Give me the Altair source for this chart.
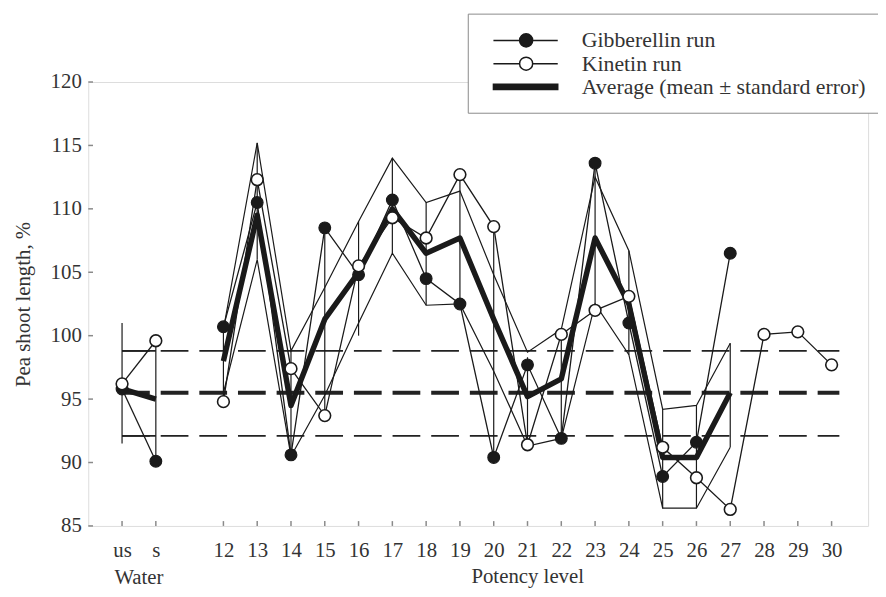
import altair as alt
import pandas as pd

# ---------------- data ----------------
x_labels = ["us", "s", "12", "13", "14", "15", "16", "17", "18", "19", "20",
            "21", "22", "23", "24", "25", "26", "27", "28", "29", "30"]
x_pos = [0, 1, 3, 4, 5, 6, 7, 8, 9, 10, 11, 12, 13, 14, 15, 16, 17, 18, 19, 20, 21]

gib_labels = x_labels[:18]
gib_vals = [95.8, 90.1, 100.7, 110.5, 90.6, 108.5, 104.8, 110.7, 104.5, 102.5,
            90.4, 97.7, 91.9, 113.6, 101.0, 88.9, 91.6, 106.5]

kin_labels = x_labels
kin_vals = [96.2, 99.6, 94.8, 112.3, 97.4, 93.7, 105.5, 109.3, 107.7, 112.7,
            108.6, 91.4, 100.1, 102.0, 103.1, 91.2, 88.8, 86.3, 100.1, 100.3, 97.7]

avg_labels = x_labels[:18]
avg_vals = [95.8, 95.0, 98.0, 109.5, 94.5, 101.3, 105.0, 110.0, 106.5, 107.7,
            101.3, 95.2, 96.6, 107.7, 102.5, 90.4, 90.4, 95.5]

env_labels = x_labels[2:18]
env_upper = [100.5, 115.2, 98.8, 103.8, 109.0, 114.0, 110.5, 111.4, 104.8, 98.7,
             100.5, 112.5, 106.7, 94.2, 94.5, 99.4]
env_lower = [95.5, 106.0, 90.5, 95.3, 101.0, 106.5, 102.4, 102.5, 97.2, 91.3,
             91.9, 102.5, 98.5, 86.4, 86.4, 91.2]

bar_labels = x_labels[:18]
bar_lo = [91.5, 90.1, 94.8, 106.0, 90.6, 93.7, 100.0, 106.5, 102.4, 102.5,
          90.4, 91.5, 91.9, 102.0, 98.5, 86.4, 86.4, 91.2]
bar_hi = [101.0, 99.6, 100.7, 115.2, 98.8, 108.5, 109.0, 114.0, 110.5, 112.7,
          108.6, 98.3, 100.1, 113.6, 106.7, 94.2, 94.5, 99.4]

water_levels = [98.8, 95.5, 92.1]
water_widths = [1.8, 4.0, 1.8]
water_cap_levels = [98.8, 92.1]
dash_start, dash_end = 0, 21.23

y_ticks = [85, 90, 95, 100, 105, 110, 115, 120]
legend_labels = ["Gibberellin run", "Kinetin run", "Average (mean \u00b1 standard error)"]

# ---------------- helpers ----------------
pos_of = dict(zip(x_labels, x_pos))


def seg(lbl):
    return "water" if lbl in ("us", "s") else "potency"


FONT = "Liberation Serif"
INK = "#1a1a1a"
GREY = "#8a8a8a"
TXT = "#333"

label_array = ["" for _ in range(max(x_pos) + 1)]
for lbl, p in zip(x_labels, x_pos):
    label_array[p] = lbl
label_expr = "[" + ",".join("'" + s + "'" for s in label_array) + "][datum.value]"

xscale = alt.Scale(domain=[-1, 22.08], nice=False, zero=False)
yscale = alt.Scale(domain=[85, 120], nice=False, zero=False)

xaxis = alt.Axis(values=x_pos, labelExpr=label_expr, tickSize=0, domain=False, grid=False,
                 labelFont=FONT, labelFontSize=21, labelColor=TXT, labelPadding=14,
                 title="Potency level", titleFont=FONT, titleFontSize=21,
                 titleFontWeight="normal", titleColor=TXT, titleX=443, titlePadding=5)
yaxis = alt.Axis(values=y_ticks, tickSize=0, domain=False, grid=False,
                 labelFont=FONT, labelFontSize=21, labelColor=TXT, labelPadding=7,
                 title="Pea shoot length, %", titleFont=FONT, titleFontSize=21,
                 titleFontWeight="normal", titleColor=TXT, titlePadding=17)

X = alt.X("x:Q", scale=xscale, axis=xaxis)
Y = alt.Y("y:Q", scale=yscale, axis=yaxis)

# ---------------- frames ----------------
dash_df = pd.DataFrame({"y": water_levels, "w": water_widths,
                        "x": dash_start, "x2": dash_end})
cap_df = pd.DataFrame({"y": water_cap_levels, "x": x_pos[0], "x2": x_pos[1]})

env_df = pd.DataFrame(
    [{"x": pos_of[l], "y": v, "b": "upper"} for l, v in zip(env_labels, env_upper)] +
    [{"x": pos_of[l], "y": v, "b": "lower"} for l, v in zip(env_labels, env_lower)])

bar_df = pd.DataFrame({"x": [pos_of[l] for l in bar_labels], "y": bar_lo, "y2": bar_hi})

gib_df = pd.DataFrame({"x": [pos_of[l] for l in gib_labels], "y": gib_vals,
                       "seg": [seg(l) for l in gib_labels]})
kin_df = pd.DataFrame({"x": [pos_of[l] for l in kin_labels], "y": kin_vals,
                       "seg": [seg(l) for l in kin_labels]})
avg_df = pd.DataFrame({"x": [pos_of[l] for l in avg_labels], "y": avg_vals,
                       "seg": [seg(l) for l in avg_labels]})

xt_df = pd.DataFrame({"x": x_pos, "y": 85.0, "y2": 85.38})
yt_df = pd.DataFrame({"y": y_ticks, "x": -1.0, "x2": -0.86})

water_df = pd.DataFrame({"x": [(x_pos[0] + x_pos[1]) / 2], "t": ["Water"]})

leg_df = pd.DataFrame({"series": legend_labels, "x": 0.0, "y": 150.0})

# ---------------- layers ----------------
dashes = alt.Chart(dash_df).mark_rule(strokeDash=[28, 11], color="#222").encode(
    x=X, x2="x2:Q", y=Y, strokeWidth=alt.StrokeWidth("w:Q", scale=None))

caps = alt.Chart(cap_df).mark_rule(color="#222", strokeWidth=1.8).encode(
    x=X, x2="x2:Q", y=Y)

env = alt.Chart(env_df).mark_line(color=INK, strokeWidth=1.2).encode(
    x=X, y=Y, detail="b:N")

bars = alt.Chart(bar_df).mark_rule(color=INK, strokeWidth=1.2).encode(
    x=X, y=Y, y2="y2:Q")

gib_line = alt.Chart(gib_df).mark_line(color=INK, strokeWidth=1.3).encode(
    x=X, y=Y, detail="seg:N")
kin_line = alt.Chart(kin_df).mark_line(color=INK, strokeWidth=1.3).encode(
    x=X, y=Y, detail="seg:N")
avg_line = alt.Chart(avg_df).mark_line(color=INK, strokeWidth=5.5, strokeJoin="round").encode(
    x=X, y=Y, detail="seg:N")

gib_pts = alt.Chart(gib_df).mark_point(filled=True, shape="circle", size=140, opacity=1,
                                       fill=INK, stroke=INK, strokeWidth=1.2).encode(x=X, y=Y)
kin_pts = alt.Chart(kin_df).mark_point(filled=True, shape="circle", size=140, opacity=1,
                                       fill="white", stroke=INK, strokeWidth=1.6).encode(x=X, y=Y)

xticks = alt.Chart(xt_df).mark_rule(color=GREY, strokeWidth=1.5).encode(x=X, y=Y, y2="y2:Q")
yticks = alt.Chart(yt_df).mark_rule(color=GREY, strokeWidth=1.5).encode(x=X, x2="x2:Q", y=Y)

water = alt.Chart(water_df).mark_text(font=FONT, fontSize=21, color=TXT,
                                      baseline="middle", align="center").encode(
    x=X, y=alt.value(501), text="t:N")

# legend symbols: line + circle / thick bar (unit = sqrt(size)/2)
p_circ = ("M-0.1,0L2.3,0M3.5,0L5.8,0M2.3,0A0.6,0.6 0 1,1 3.5,0A0.6,0.6 0 1,1 2.3,0Z")
p_bar = "M-0.1,-0.24L5.8,-0.24L5.8,0.24L-0.1,0.24Z"
leg_common = dict(orient="none", legendX=383, legendY=-69, title=None,
                  labelFont=FONT, labelFontSize=22, labelColor=TXT, labelLimit=1000,
                  labelOffset=76, symbolSize=484, symbolStrokeColor=INK,
                  symbolStrokeWidth=1.5, strokeColor=GREY, fillColor="white",
                  padding=15, rowPadding=0.5)
legend_layer = alt.Chart(leg_df).mark_point(filled=True, clip=True, size=484, opacity=1,
                                            stroke=INK, strokeWidth=1.5).encode(
    x=X, y=Y,
    shape=alt.Shape("series:N", scale=alt.Scale(domain=legend_labels,
                                                range=[p_circ, p_circ, p_bar]),
                    legend=alt.Legend(**leg_common)),
    fill=alt.Fill("series:N", scale=alt.Scale(domain=legend_labels,
                                              range=[INK, "white", INK]),
                  legend=alt.Legend(**leg_common)),
    stroke=alt.Stroke("series:N", scale=alt.Scale(domain=legend_labels,
                                                  range=[INK, INK, INK]),
                      legend=alt.Legend(**leg_common)),
)

chart = alt.layer(
    dashes, caps, env, bars, gib_line, kin_line, avg_line, gib_pts, kin_pts,
    xticks, yticks, water, legend_layer
).properties(
    width=787, height=448,
    padding={"left": 81, "top": 72, "right": 10, "bottom": 65},
    autosize=alt.AutoSizeParams(type="none"),
).configure_view(
    stroke=GREY, strokeWidth=2
).configure(background="white")

chart.save("out.html", embed_options={"renderer": "svg", "actions": False})
